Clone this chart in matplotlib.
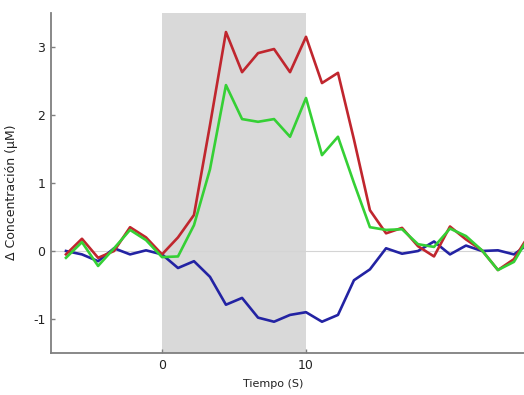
import matplotlib
matplotlib.use('Agg')
import matplotlib.pyplot as plt

plt.rcParams['axes.unicode_minus'] = False

# tiempo (s), muestreo cada 10/9 s
tiempo = [-6.67, -5.56, -4.44, -3.33, -2.22, -1.11, 0.0, 1.11, 2.22, 3.33,
          4.44, 5.56, 6.67, 7.78, 8.89, 10.0, 11.11, 12.22, 13.33, 14.44,
          15.56, 16.67, 17.78, 18.89, 20.0, 21.11, 22.22, 23.33, 24.44, 25.56]

rojo = [-0.05, 0.18, -0.10, 0.00, 0.35, 0.20, -0.05, 0.20, 0.53, 1.85,
        3.22, 2.63, 2.91, 2.97, 2.63, 3.15, 2.47, 2.62, 1.64, 0.60,
        0.26, 0.34, 0.07, -0.08, 0.36, 0.17, 0.01, -0.28, -0.12, 0.26]

verde = [-0.10, 0.13, -0.22, 0.04, 0.31, 0.16, -0.09, -0.08, 0.38, 1.20,
         2.44, 1.94, 1.90, 1.94, 1.68, 2.25, 1.41, 1.68, 1.00, 0.35,
         0.31, 0.32, 0.10, 0.06, 0.33, 0.22, 0.01, -0.28, -0.16, 0.24]

azul = [0.00, -0.05, -0.15, 0.04, -0.05, 0.01, -0.05, -0.25, -0.15, -0.38,
        -0.79, -0.69, -0.98, -1.04, -0.94, -0.90, -1.04, -0.94, -0.43, -0.27,
        0.04, -0.04, 0.00, 0.14, -0.05, 0.08, 0.00, 0.01, -0.05, 0.12]

estimulo = (0, 10)
xticks = [0, 10]
yticks = [-1, 0, 1, 2, 3]

fig = plt.figure(figsize=(5.24, 3.95), dpi=100)
ax = fig.add_axes([51 / 524, 42 / 395, 473 / 524, 340 / 395])

ax.axvspan(estimulo[0], estimulo[1], color='#d9d9d9', lw=0, zorder=0)
ax.axhline(0, color='#d4d4d4', lw=0.8, zorder=1)

ax.plot(tiempo, azul, color='#2323a3', lw=1.9, zorder=3)
ax.plot(tiempo, rojo, color='#c0262e', lw=1.9, zorder=4)
ax.plot(tiempo, verde, color='#35d035', lw=1.9, zorder=5)

ax.set_xlim(-7.71, 25.14)
ax.set_ylim(-1.5, 3.5)
ax.set_xticks(xticks)
ax.set_yticks(yticks)

for s in ['top', 'right']:
    ax.spines[s].set_visible(False)
for s in ['left', 'bottom']:
    ax.spines[s].set_color('#7f7f7f')
    ax.spines[s].set_linewidth(1.3)

ax.tick_params(direction='in', length=3, width=1, color='#7f7f7f',
               labelsize=9, labelcolor='#222222', pad=4)

ax.set_xlabel('Tiempo (S)', fontsize=8, color='#222222')
ax.set_ylabel('Δ Concentración (μM)', fontsize=9, color='#222222')
ax.xaxis.set_label_coords(0.469, -0.076)
ax.yaxis.set_label_coords(-0.07, 0.474)

fig.savefig('out.png', dpi=100)
